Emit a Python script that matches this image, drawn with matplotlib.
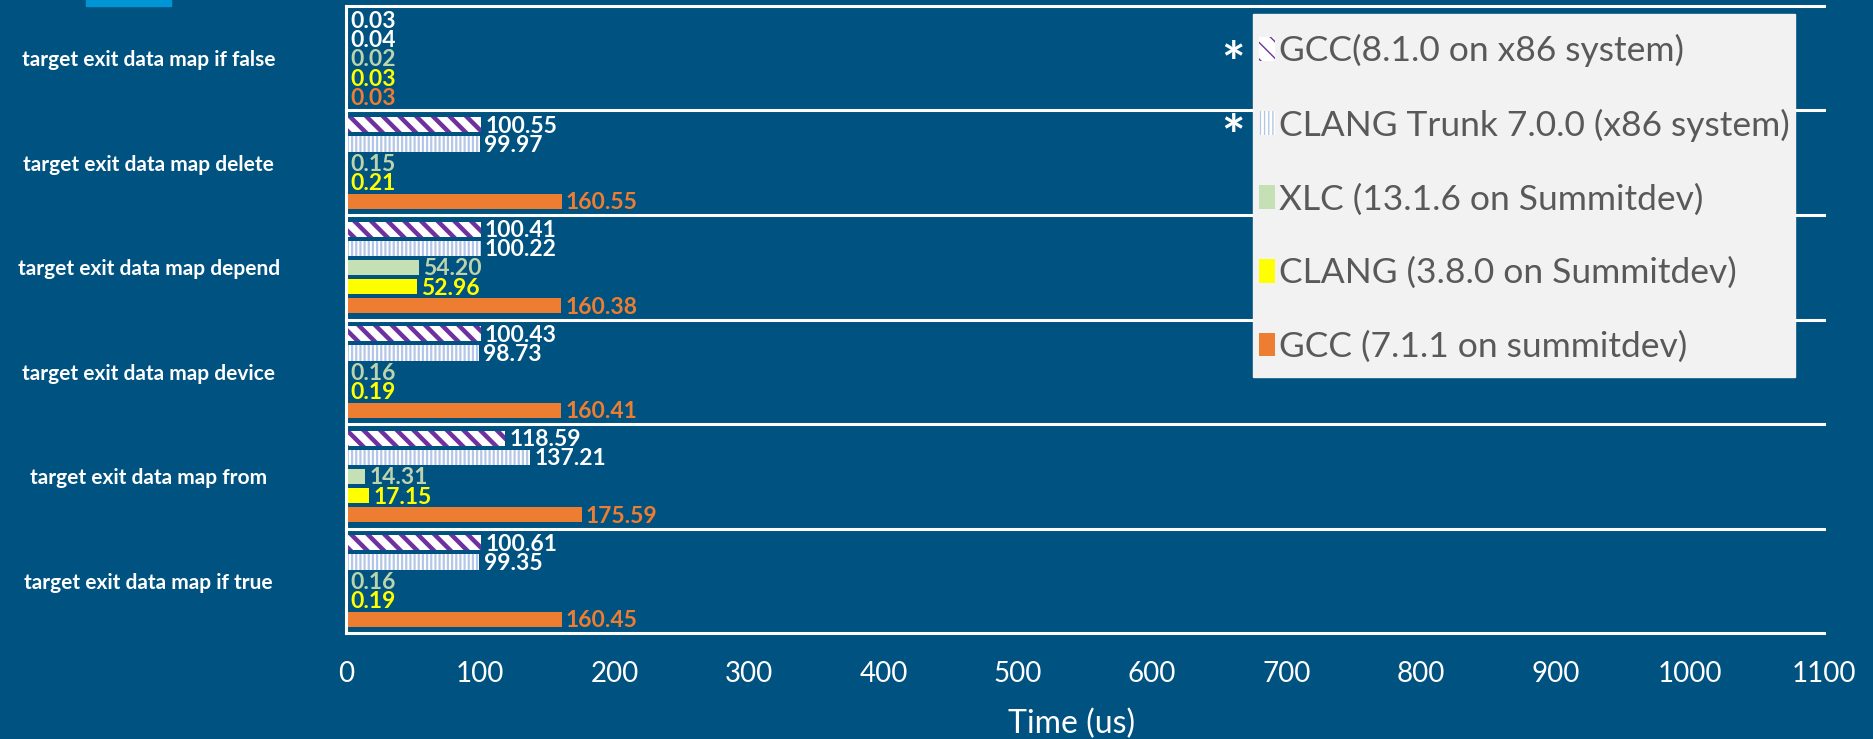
import numpy as np
import matplotlib.pyplot as plt
from matplotlib.patches import Rectangle

categories = ['target exit data map if false', 'target exit data map delete',
              'target exit data map depend', 'target exit data map device',
              'target exit data map from', 'target exit data map if true']
series = ['GCC(8.1.0 on x86 system)', 'CLANG Trunk 7.0.0 (x86 system)',
          'XLC (13.1.6 on Summitdev)', 'CLANG (3.8.0 on Summitdev)',
          'GCC (7.1.1 on summitdev)']
gcc_x86 = [0.03, 100.55, 100.41, 100.43, 118.59, 100.61]
clang_trunk = [0.04, 99.97, 100.22, 98.73, 137.21, 99.35]
xlc = [0.02, 0.15, 54.20, 0.16, 14.31, 0.16]
clang_38 = [0.03, 0.21, 52.96, 0.19, 17.15, 0.19]
gcc_711 = [0.03, 160.55, 160.38, 160.41, 175.59, 160.45]
xticks = list(range(0, 1101, 100))

values = [gcc_x86, clang_trunk, xlc, clang_38, gcc_711]

bg = '#005280'
faces = ['white', 'white', '#C5E0B4', '#FFFF00', '#ED7D31']
hatch_cols = ['#7030A0', '#B4C7E7', '#C5E0B4', '#FFFF00', '#ED7D31']
hatches = ['\\\\', '||||', None, None, None]
hatch_lw = [3.2, 1.6, 1, 1, 1]
label_cols = ['white', 'white', '#BCD4AE', '#FFFF00', '#ED7D31']

plt.rcParams['font.family'] = ['Lato', 'DejaVu Sans']

fig = plt.figure(figsize=(18.73, 7.39), dpi=100, facecolor=bg)
ax = fig.add_axes([0.1847, 0.1434, 0.9738 - 0.1847, 0.9919 - 0.1434])
ax.set_facecolor(bg)

y0 = np.arange(len(categories))
handles = []
for j, (vals, name) in enumerate(zip(values, series)):
    plt.rcParams['hatch.linewidth'] = hatch_lw[j]
    ys = y0 + 0.137 + j * 0.183
    bars = ax.barh(ys, vals, height=0.145, color=faces[j], edgecolor=hatch_cols[j],
                   hatch=hatches[j], linewidth=0, label=name)
    for b in bars:
        if hasattr(b, 'set_hatch_linewidth'):
            b.set_hatch_linewidth(hatch_lw[j])
    handles.append(bars)
    for v, y in zip(vals, ys):
        ax.annotate(f'{v:.2f}', (v, y), xytext=(3, -1), textcoords='offset points',
                    va='center', ha='left', fontsize=16.5, fontweight='bold',
                    color=label_cols[j])

for k in range(len(categories) + 1):
    ax.axhline(k, color='white', lw=2.2, clip_on=False)

ax.set_ylim(len(categories), 0)
ax.set_xlim(0, 1100)
ax.set_xticks(xticks)
ax.set_yticks(y0 + 0.5)
ax.set_yticklabels(categories)
for lab in ax.get_yticklabels():
    lab.set_ha('center')
    lab.set_fontweight('bold')
ax.tick_params(axis='y', length=0, pad=142, labelsize=15, colors='white')
ax.tick_params(axis='x', length=0, pad=20, labelsize=20, colors='white')
ax.set_xlabel('Time (us)', color='white', fontsize=23, labelpad=16)
ax.xaxis.label.set_x(0.491)

for s in ['top', 'right', 'bottom']:
    ax.spines[s].set_visible(False)
ax.spines['left'].set_color('white')
ax.spines['left'].set_linewidth(2.2)

# legend background box
fig.patches.append(Rectangle((1253 / 1873, 1 - 377 / 739), 542 / 1873, 363 / 739,
                             transform=fig.transFigure, color='#F2F2F2', zorder=5))
leg = fig.legend(handles=handles, loc='upper left',
                 bbox_to_anchor=(1259 / 1873, 1 - 34 / 739),
                 borderaxespad=0, fontsize=25.5,
                 frameon=False, handlelength=0.45, handleheight=0.65,
                 handletextpad=0.12, labelspacing=1.17, borderpad=0)
leg.set_zorder(10)
for t in leg.get_texts():
    t.set_color('#595959')

for yy in [66, 139]:
    fig.text(1233 / 1873, 1 - yy / 739, '*', color='white', fontsize=40,
             fontweight='bold', ha='center', va='center')

fig.patches.append(Rectangle((86 / 1873, 1 - 6 / 739), 85 / 1873, 6 / 739,
                             transform=fig.transFigure, color='#0096D6'))

plt.savefig('out.png', facecolor=bg)
plt.close()
